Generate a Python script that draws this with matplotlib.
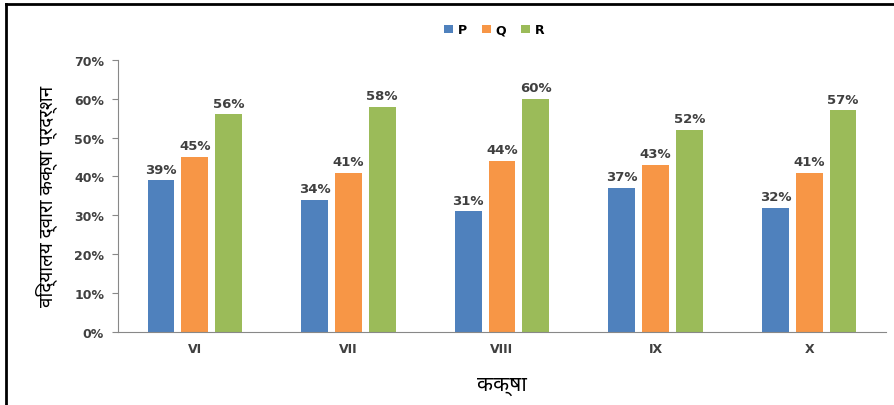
import matplotlib
matplotlib.use('Agg')
import matplotlib.pyplot as plt
from matplotlib.lines import Line2D
import numpy as np

# class-wise performance of three schools
classes = ['VI', 'VII', 'VIII', 'IX', 'X']
school_p = [39, 34, 31, 37, 32]
school_q = [45, 41, 44, 43, 41]
school_r = [56, 58, 60, 52, 57]
series_names = ['P', 'Q', 'R']

colors = ['#4F81BD', '#F79646', '#9BBB59']
text_color = '#404040'
hindi_fonts = ['Noto Sans Devanagari', 'Lohit Devanagari', 'Mangal', 'FreeSans', 'Noto Sans', 'DejaVu Sans']

fig = plt.figure(figsize=(8.94, 4.06), dpi=100)
ax = fig.add_axes([0.132, 0.180, 0.859, 0.670])

x = np.arange(len(classes))
width = 0.175
offset = 0.22
for i, (vals, name) in enumerate(zip([school_p, school_q, school_r], series_names)):
    pos = x + (i - 1) * offset
    bars = ax.bar(pos, vals, width, color=colors[i], label=name, zorder=2)
    for b, v in zip(bars, vals):
        ax.text(b.get_x() + b.get_width() / 2, v + 1.2, f'{v}%', ha='center', va='bottom',
                fontsize=9.5, fontweight='bold', color=text_color)

ax.set_xlim(-0.5, len(classes) - 0.5)
ax.set_ylim(0, 70)
ax.set_yticks(range(0, 71, 10))
ax.set_yticklabels([f'{t}%' for t in range(0, 71, 10)], fontsize=9, fontweight='bold', color=text_color)
ax.set_xticks(x)
ax.set_xticklabels(classes, fontsize=9, fontweight='bold', color=text_color)
ax.tick_params(axis='x', length=0, pad=7)
ax.tick_params(axis='y', length=4, color='#888888', pad=6)
for side in ['top', 'right']:
    ax.spines[side].set_visible(False)
for side in ['left', 'bottom']:
    ax.spines[side].set_color('#888888')

ax.set_ylabel('विद्यालय द्वारा कक्षा प्रदर्शन', fontsize=13.5, fontweight='bold',
              family=hindi_fonts, labelpad=12)
ax.set_xlabel('कक्षा', fontsize=15, fontweight='bold', family=hindi_fonts, labelpad=14)

ax.legend(loc='center', bbox_to_anchor=(0.49, 1.11), ncol=3, frameon=False,
          handlelength=0.7, handleheight=0.7, handletextpad=0.4, columnspacing=1.2,
          prop={'weight': 'bold', 'size': 9})

# border lines on the left and top of the figure
fig.add_artist(Line2D([0.007, 0.007], [0, 0.988], transform=fig.transFigure, color='black', lw=2))
fig.add_artist(Line2D([0.007, 1], [0.988, 0.988], transform=fig.transFigure, color='black', lw=2))

fig.savefig('out.png', dpi=100)
